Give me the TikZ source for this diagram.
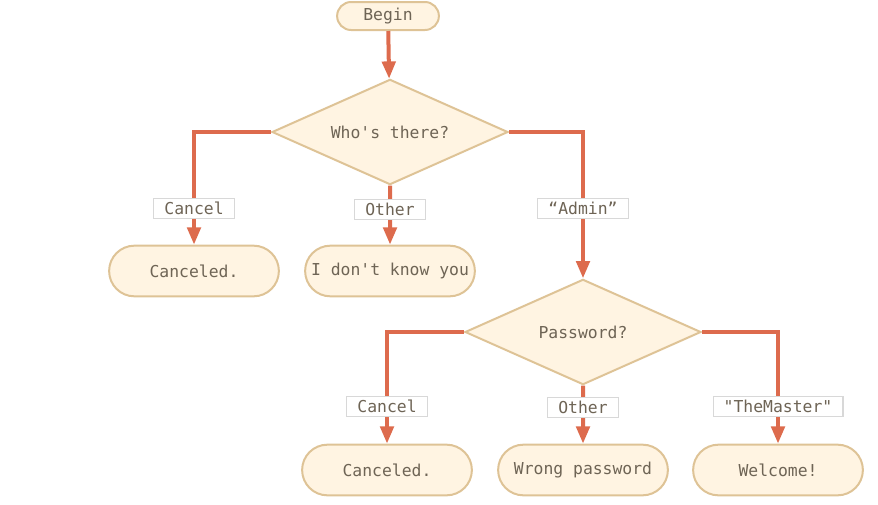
\documentclass[tikz,border=0pt]{standalone}
\usepackage{fontspec}
\usetikzlibrary{shapes.geometric, shapes.misc, arrows.meta}
\newfontfamily\flowfont{DejaVu Sans Mono}
\definecolor{flowfill}{HTML}{FFF4E2}
\definecolor{flowline}{HTML}{DEC396}
\definecolor{flowarrow}{HTML}{DD6B4D}
\definecolor{flowtext}{HTML}{6E6455}
\definecolor{lblline}{HTML}{D8D8D8}

\tikzset{
  term/.style={rounded rectangle, draw=flowline, fill=flowfill, line width=1.5pt,
    minimum width=134pt, minimum height=38pt, text=flowtext},
  decision/.style={diamond, aspect=2.25, draw=flowline, fill=flowfill, line width=1.5pt,
    minimum width=177pt, minimum height=79pt, inner sep=0pt, text=flowtext},
  lbl/.style={draw=lblline, fill=white, line width=0.8pt, text=flowtext,
    inner xsep=8pt, inner ysep=2pt, minimum height=15pt}
}

\begin{document}
\begin{tikzpicture}[->, >={Triangle[length=13pt,width=10pt]}, line width=3pt, flowarrow,
    x=0.75pt, y=-0.75pt, font=\flowfont\fontsize{12.3}{14}\selectfont]
    	\useasboundingbox (0,0) rectangle (878,504);
    	\node[term, minimum width=83pt, minimum height=21pt] (begin) at (388,16) {Begin};
    	\node[decision] (who) at (390,132) {Who's there?};
    	\node[term] (c1) at (194,271) {Canceled.};
    	\node[term] (unk) at (390,271) {I don't know you};
    	\node[decision] (pw) at (583,332) {Password?};
    	\node[term] (c2) at (387,470) {Canceled.};
    	\node[term] (wrong) at (583,470) {Wrong password};
    	\node[term] (welc) at (778,470) {Welcome!};
    	\draw (begin) -- (who);
    	\draw (who.west) -| node[lbl, pos=0.84] {Cancel} (c1);
    	\draw (who) -- node[lbl, pos=0.4] {Other} (unk);
    	\draw (who.east) -| node[lbl, pos=0.76] {“Admin”} (pw);
    	\draw (pw.west) -| node[lbl, pos=0.835] {Cancel} (c2);
    	\draw (pw) -- node[lbl, pos=0.38] {Other} (wrong);
    	\draw (pw.east) -| node[lbl, pos=0.835] {"TheMaster"} (welc);
\end{tikzpicture}
\end{document}
